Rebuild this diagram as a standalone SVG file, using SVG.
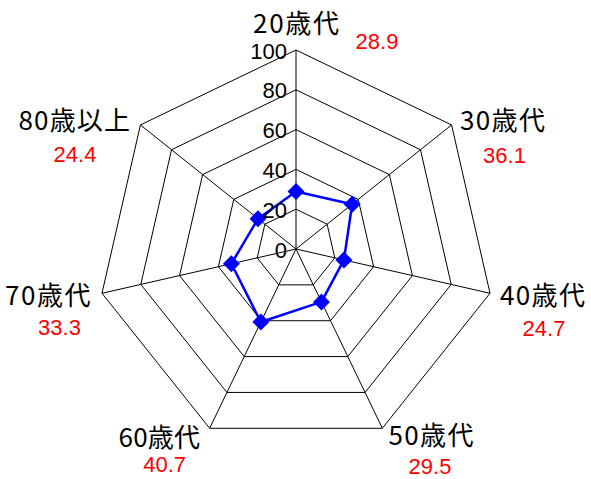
<svg xmlns="http://www.w3.org/2000/svg" width="591" height="479" viewBox="0 0 591 479">
<style>
.grid{fill:none;stroke:#000;stroke-width:1}
.series{fill:none;stroke:#0000FF;stroke-width:2.5;stroke-linejoin:round}
.mk{fill:#0000FF}
.tick{font-family:"Liberation Sans",Arial,sans-serif;font-size:22px;fill:#000;text-anchor:end}
.cat{font-family:"Noto Sans CJK JP","Noto Sans",sans-serif;font-size:26px;fill:#000}
.val{font-family:"Liberation Sans",Arial,sans-serif;font-size:22px;fill:#FF0000;text-anchor:middle}
</style>
<defs>
<path id="dia" d="M0,-8.5 L8.5,0 L0,8.5 L-8.5,0Z"/>
</defs>
<rect width="591" height="479" fill="#fff"/>
<g id="grid">
<polygon class="grid" points="296,50 451.58,124.93 490.01,293.28 382.34,428.29 209.66,428.29 101.99,293.28 140.42,124.93"/>
<polygon class="grid" points="296,89.8 420.47,149.74 451.21,284.42 365.07,392.43 226.93,392.43 140.79,284.42 171.53,149.74"/>
<polygon class="grid" points="296,129.6 389.35,174.56 412.41,275.57 347.81,356.58 244.19,356.58 179.59,275.57 202.65,174.56"/>
<polygon class="grid" points="296,169.4 358.23,199.37 373.6,266.71 330.54,320.72 261.46,320.72 218.4,266.71 233.77,199.37"/>
<polygon class="grid" points="296,209.2 327.12,224.19 334.8,257.86 313.27,284.86 278.73,284.86 257.2,257.86 264.88,224.19"/>
<path class="grid" d="M296,249 L296,50 M296,249 L451.58,124.93 M296,249 L490.01,293.28 M296,249 L382.34,428.29 M296,249 L209.66,428.29 M296,249 L101.99,293.28 M296,249 L140.42,124.93"/>
</g>
<g id="connectors">
<polygon class="series" points="296,191.49 352.17,204.21 343.92,259.94 321.47,301.9 260.86,321.97 231.39,263.75 258.03,218.72"/>
</g>
<g id="markers">
<use href="#dia" class="mk" x="296" y="191.49"/>
<use href="#dia" class="mk" x="352.17" y="204.21"/>
<use href="#dia" class="mk" x="343.92" y="259.94"/>
<use href="#dia" class="mk" x="321.47" y="301.9"/>
<use href="#dia" class="mk" x="260.86" y="321.97"/>
<use href="#dia" class="mk" x="231.39" y="263.75"/>
<use href="#dia" class="mk" x="258.03" y="218.72"/>
</g>
<g id="ticks">
<text class="tick" x="287" y="58.5">100</text>
<text class="tick" x="287" y="97.5">80</text>
<text class="tick" x="287" y="137.5">60</text>
<text class="tick" x="287" y="177.5">40</text>
<text class="tick" x="287" y="217.5">20</text>
<text class="tick" x="287" y="257.5">0</text>
</g>
<g id="n20">
<text class="cat" x="253" y="32.5" textLength="86" lengthAdjust="spacing">20歳代</text>
<text class="val" x="377" y="49">28.9</text>
</g>
<g id="n30">
<text class="cat" x="460" y="130" textLength="85" lengthAdjust="spacing">30歳代</text>
<text class="val" x="504.5" y="163">36.1</text>
</g>
<g id="n40">
<text class="cat" x="500" y="305" textLength="85" lengthAdjust="spacing">40歳代</text>
<text class="val" x="544" y="335.5">24.7</text>
</g>
<g id="n50">
<text class="cat" x="388.5" y="445" textLength="85" lengthAdjust="spacing">50歳代</text>
<text class="val" x="430" y="474">29.5</text>
</g>
<g id="n60">
<text class="cat" x="118.5" y="446.5" textLength="81.5" lengthAdjust="spacing">60歳代</text>
<text class="val" x="164.7" y="471.5">40.7</text>
</g>
<g id="n70">
<text class="cat" x="5" y="305" textLength="85.5" lengthAdjust="spacing">70歳代</text>
<text class="val" x="59.5" y="335">33.3</text>
</g>
<g id="n80">
<text class="cat" x="18.5" y="129.5" textLength="111.5" lengthAdjust="spacing">80歳以上</text>
<text class="val" x="75" y="161.5">24.4</text>
</g>
</svg>
